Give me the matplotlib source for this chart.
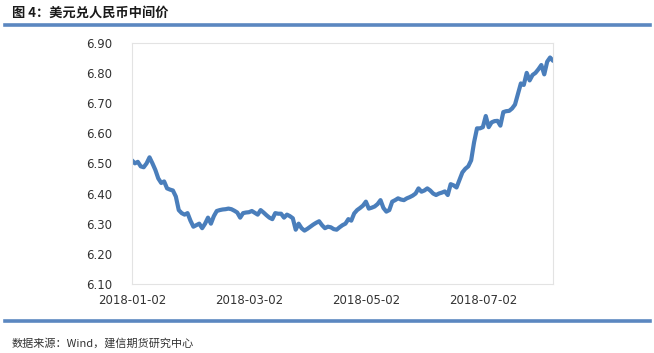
import matplotlib.pyplot as plt
import numpy as np

plt.rcParams['font.family'] = ['Noto Sans CJK SC', 'DejaVu Sans']

# USD/CNY central parity, trading days from 2018-01-02
rate = [
    6.510, 6.500, 6.505, 6.490, 6.487, 6.500, 6.520, 6.500, 6.478, 6.450,
    6.435, 6.440, 6.417, 6.413, 6.410, 6.390, 6.345, 6.335, 6.330, 6.335,
    6.310, 6.290, 6.295, 6.300, 6.285, 6.300, 6.320, 6.300, 6.325, 6.342,
    6.345, 6.347, 6.348, 6.350, 6.348, 6.343, 6.337, 6.320, 6.335, 6.337,
    6.338, 6.342, 6.336, 6.330, 6.345, 6.337, 6.328, 6.320, 6.315, 6.335,
    6.333, 6.333, 6.320, 6.330, 6.325, 6.318, 6.280, 6.300, 6.285, 6.277,
    6.283, 6.290, 6.297, 6.303, 6.308, 6.295, 6.285, 6.290, 6.288, 6.282,
    6.280, 6.288, 6.295, 6.300, 6.315, 6.310, 6.334, 6.345, 6.352, 6.360,
    6.373, 6.350, 6.353, 6.357, 6.365, 6.378, 6.352, 6.340, 6.345, 6.373,
    6.378, 6.384, 6.380, 6.378, 6.384, 6.388, 6.393, 6.400, 6.417, 6.406,
    6.410, 6.417, 6.410, 6.400, 6.395, 6.400, 6.403, 6.407, 6.395, 6.431,
    6.427, 6.420, 6.445, 6.470, 6.482, 6.490, 6.510, 6.570, 6.616, 6.616,
    6.620, 6.657, 6.620, 6.636, 6.640, 6.641, 6.625, 6.670, 6.673, 6.674,
    6.682, 6.695, 6.730, 6.765, 6.760, 6.800, 6.775, 6.793, 6.800, 6.812,
    6.826, 6.795, 6.837, 6.851, 6.840,
]
tick_pos = [0, 40, 80, 120]
tick_labels = ['2018-01-02', '2018-03-02', '2018-05-02', '2018-07-02']
y_ticks = [6.10, 6.20, 6.30, 6.40, 6.50, 6.60, 6.70, 6.80, 6.90]

fig = plt.figure(figsize=(6.54, 3.53), dpi=100)
ax = fig.add_axes([0.2018, 0.1955, 0.6438, 0.6835])

ax.plot(np.arange(len(rate)), rate, color='#4a7ebb', linewidth=3.0,
        solid_joinstyle='round', solid_capstyle='round')

ax.set_xlim(0, len(rate) - 1)
ax.set_ylim(6.10, 6.90)
ax.set_yticks(y_ticks)
ax.set_yticklabels(['%.2f' % v for v in y_ticks], family='DejaVu Sans')
ax.set_xticks(tick_pos)
ax.set_xticklabels(tick_labels, family='DejaVu Sans')
ax.tick_params(axis='both', length=0, labelsize=8.5, colors='#333333')
ax.tick_params(axis='y', pad=14)
ax.tick_params(axis='x', pad=7)
for s in ax.spines.values():
    s.set_color('#e3e3e3')
    s.set_linewidth(0.8)

# header / footer decoration
fig.text(0.018, 0.965, '图 4：美元兑人民币中间价', fontsize=9.5, fontweight='bold',
         color='#1a1a1a', va='center', ha='left')
fig.add_artist(plt.Line2D([0.008, 0.994], [0.929, 0.929], color='#5b87c0',
                          linewidth=2.6, transform=fig.transFigure))
fig.add_artist(plt.Line2D([0.008, 0.994], [0.091, 0.091], color='#5b87c0',
                          linewidth=2.6, transform=fig.transFigure))
fig.text(0.018, 0.028, '数据来源：Wind，建信期货研究中心', fontsize=8,
         color='#333333', va='center', ha='left')

plt.savefig('out.png', dpi=100)
